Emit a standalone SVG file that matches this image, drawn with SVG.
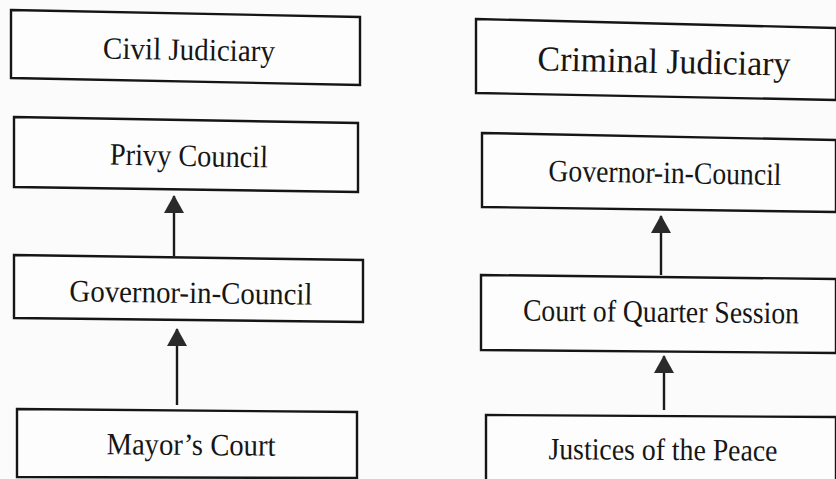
<svg xmlns="http://www.w3.org/2000/svg" width="836" height="479" viewBox="0 0 836 479">
  <defs>
    <style>
      .box { fill: #fdfdfd; stroke: #151515; stroke-width: 2.4; stroke-linejoin: miter; }
      .lbl { font-family: "Liberation Serif", "Times New Roman", serif; font-size: 31px; fill: #161616; text-anchor: middle; }
      .big { font-size: 35px; }
      .conn { stroke: #1a1a1a; stroke-width: 2.4; fill: none; }
    </style>
    <marker id="ah" viewBox="0 0 18 20" refX="17" refY="10" markerWidth="18" markerHeight="20" markerUnits="userSpaceOnUse" orient="auto">
      <path d="M0,0 L18,10 L0,20 Z" fill="#2a2a2a"/>
    </marker>
  </defs>
  <rect x="0" y="0" width="836" height="479" fill="#fbfbfb"/>

  <g id="civil-judiciary">
    <polygon class="box" points="11,10 360,17 360,85 11,78"/>
    <text class="lbl" x="189" y="60" textLength="172" lengthAdjust="spacingAndGlyphs" transform="rotate(1 189 50)">Civil Judiciary</text>
  </g>
  <g id="privy-council">
    <polygon class="box" points="14,117 358,123 358,192 14,187"/>
    <text class="lbl" x="189" y="166" textLength="158" lengthAdjust="spacingAndGlyphs" transform="rotate(1 189 156)">Privy Council</text>
  </g>
  <g id="governor-in-council-civil">
    <polygon class="box" points="14,255 363,260 363,322 14,318"/>
    <text class="lbl" x="191" y="303" textLength="243" lengthAdjust="spacingAndGlyphs" transform="rotate(0.8 191 293)">Governor-in-Council</text>
  </g>
  <g id="mayors-court">
    <polygon class="box" points="17,409 357,412 357,478 17,477"/>
    <text class="lbl" x="191" y="455" textLength="169" lengthAdjust="spacingAndGlyphs" transform="rotate(0.5 191 445)">Mayor’s Court</text>
  </g>

  <g id="criminal-judiciary">
    <polygon class="box" points="476,19 836,28 836,100 476,93"/>
    <text class="lbl big" x="664" y="73" textLength="253" lengthAdjust="spacingAndGlyphs" transform="rotate(1.2 664 62)">Criminal Judiciary</text>
  </g>
  <g id="governor-in-council-criminal">
    <polygon class="box" points="482,133 836,140 836,212 482,207"/>
    <text class="lbl" x="665" y="183" textLength="233" lengthAdjust="spacingAndGlyphs" transform="rotate(1 665 173)">Governor-in-Council</text>
  </g>
  <g id="court-of-quarter-session">
    <polygon class="box" points="481,275 836,279 836,353 481,350"/>
    <text class="lbl" x="661" y="322" textLength="276" lengthAdjust="spacingAndGlyphs" transform="rotate(0.6 661 312)">Court of Quarter Session</text>
  </g>
  <g id="justices-of-the-peace">
    <polygon class="box" points="486,415 836,417 836,484 486,484"/>
    <text class="lbl" x="663" y="460" textLength="229" lengthAdjust="spacingAndGlyphs" transform="rotate(0.4 663 450)">Justices of the Peace</text>
  </g>

  <g id="connectors">
    <line class="conn" x1="174" y1="256" x2="174" y2="196" marker-end="url(#ah)"/>
    <line class="conn" x1="177" y1="405" x2="177" y2="329" marker-end="url(#ah)"/>
    <line class="conn" x1="661" y1="275" x2="661" y2="216" marker-end="url(#ah)"/>
    <line class="conn" x1="664" y1="410" x2="664" y2="356" marker-end="url(#ah)"/>
  </g>
</svg>
